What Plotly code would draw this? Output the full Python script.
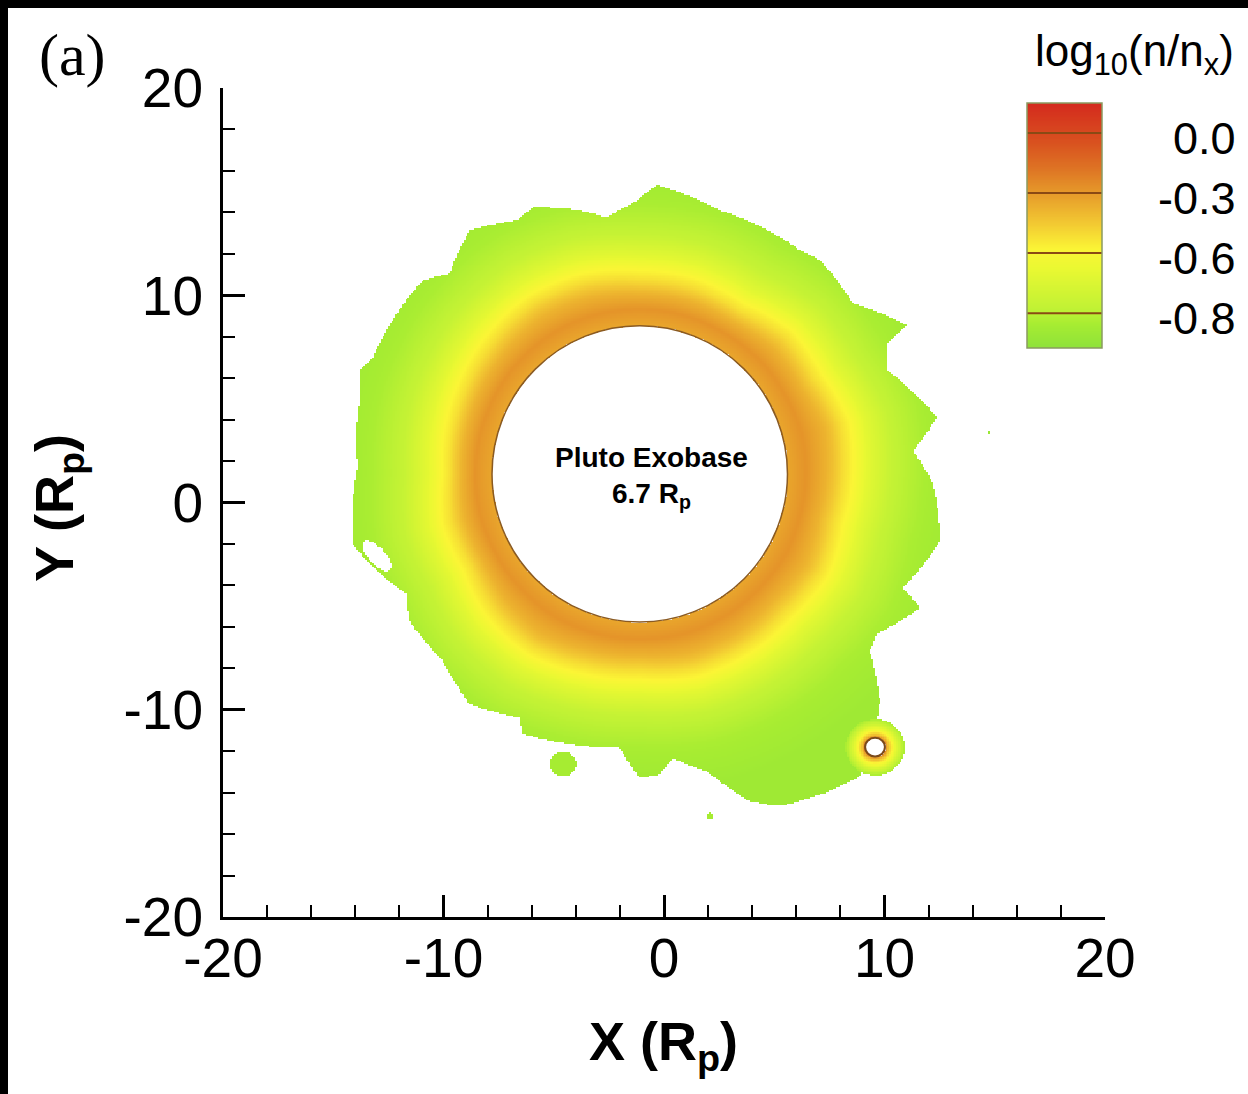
import numpy as np
import plotly.graph_objects as go

# ---------------- data ----------------
# Pluto exobase (white disc) centre and semi-axes in R_p
exo_cx, exo_cy = -1.1, 1.38
exo_rx, exo_ry = 6.7, 7.15

# outer edge of the density cloud: polar angle (deg) / radius (R_p) about exobase centre
bnd_angle = [-13.3, -2.0, 5.2, 11.5, 24.1, 29.4, 30.6, 40.4, 51.6, 56.8, 74.1, 86.8, 91.4,
             96.9, 102.1, 110.6, 114.5, 123.3, 131.7, 136.5, 155.1, 158.5, 164.4, 178.6,
             194.5, 198.7, 208.7, 214.2, 225.3, 235.2, 245.2, 247.1, 256.3, 266.1, 270.0,
             273.6, 276.2, 282.0, 287.5, 291.6, 299.4, 304.4, 314.8, 320.7, 324.4, 333.1, 335.3]
bnd_radius = [13.99, 13.30, 12.43, 13.74, 12.27, 12.85, 14.07, 12.69, 13.15, 13.01, 13.24, 13.95, 13.06,
              12.48, 13.02, 13.75, 13.45, 14.06, 12.96, 13.57, 13.35, 13.65, 13.19, 12.79,
              13.44, 13.07, 12.05, 12.61, 12.69, 13.50, 12.97, 13.61, 13.40, 13.25, 14.67,
              14.50, 13.78, 14.65, 16.55, 17.23, 17.55, 17.66, 15.44, 13.47, 13.23, 14.24, 13.13]

# radial profile of log10(n/nx) vs distance beyond the exobase (R_p)
prof_dist = [0.0, 0.8, 1.6, 2.3, 2.9, 3.4, 4.5, 6.0, 8.0]
prof_logn = [-0.34, -0.28, -0.38, -0.51, -0.60, -0.67, -0.77, -0.84, -0.88]

# angular modulation of the profile (distance shift, R_p)
mod_angle = [0, 15, 30, 45, 60, 75, 90, 105, 120, 135, 150, 165, 180, 195, 210, 225,
             240, 255, 270, 285, 300, 315, 330, 345]
mod_shift = [0.2, 0.35, 0.0, 0.1, -0.3, -0.1, -0.1, 0.15, 0.2, 0.0, -0.2, -0.35,
             -0.5, -0.2, -0.3, 0.1, 0.3, 0.1, 0.0, 0.25, 0.2, 0.1, 0.3, 0.05]

# small moon with its own halo
moon_cx, moon_cy = 9.57, -11.8
moon_r = 0.45
moon_dist = [0.45, 0.6, 0.8, 1.05, 1.35]
moon_logn = [-0.22, -0.42, -0.60, -0.72, -0.84]

# isolated small patches (centre x, centre y, radius, value)
blob_x = [-4.58, 2.09, 14.7]
blob_y = [-12.6, -15.1, 3.4]
blob_r = [0.6, 0.15, 0.07]
blob_v = [-0.85, -0.85, -0.9]

# white hole inside the cloud on the left edge
hole_cx, hole_cy = -13.02, -2.56
hole_a, hole_b, hole_tilt = 0.9, 0.38, -50.0

# legend levels
legend_levels = [-0.8, -0.6, -0.3, 0.0]
legend_labels = ["-0.8", "-0.6", "-0.3", "0.0"]

# axis ticks
tick_vals = [-20, -10, 0, 10, 20]
tick_text = ["-20", "-10", "0", "10", "20"]

# colour scale (value -> colour)
cs_vals = [-0.95, -0.85, -0.78, -0.65, -0.58, -0.45, -0.30, -0.18, -0.05, 0.15]
cs_cols = ['#8ee23a', '#a6ec32', '#c2f234', '#eaf832', '#fbf535', '#f2c832',
           '#e69a2a', '#de7424', '#d9521f', '#d42a1e']

# ---------------- build the field ----------------
vmin, vmax = cs_vals[0], cs_vals[-1]
colorscale = [[(v - vmin) / (vmax - vmin), c] for v, c in zip(cs_vals, cs_cols)]

xs = np.arange(-20, 20.0001, 0.08)
ys = np.arange(-20, 20.0001, 0.08)
X, Y = np.meshgrid(xs, ys)
dx, dy = X - exo_cx, Y - exo_cy
r = np.hypot(dx, dy)
th = np.arctan2(dy, dx)
r_exo = 1.0 / np.sqrt((np.cos(th) / exo_rx) ** 2 + (np.sin(th) / exo_ry) ** 2)
d = r - r_exo
ang = np.degrees(th) % 360
order = np.argsort(np.array(bnd_angle) % 360)
r_out = np.interp(ang, (np.array(bnd_angle) % 360)[order], np.array(bnd_radius)[order], period=360)
shift = np.interp(ang, mod_angle, mod_shift, period=360)
d_eff = np.where(d > 0.6, d - shift * np.clip((d - 0.6) / 1.5, 0, 1), d)

V = np.interp(d_eff, prof_dist, prof_logn)
inside = (d >= 0) & (r <= r_out)
Z = np.where(inside, V, np.nan)

# moon halo
dm = np.hypot(X - moon_cx, Y - moon_cy)
vm = np.interp(dm, moon_dist, moon_logn)
in_moon = dm <= moon_dist[-1]
Z = np.where(in_moon, np.fmax(Z, vm), Z)
Z = np.where(dm < moon_r, np.nan, Z)

# small patches
for bx, by, br, bv in zip(blob_x, blob_y, blob_r, blob_v):
    Z = np.where(np.hypot(X - bx, Y - by) <= br, bv, Z)

# hole
t = np.radians(hole_tilt)
hx, hy = X - hole_cx, Y - hole_cy
u = hx * np.cos(t) + hy * np.sin(t)
w = -hx * np.sin(t) + hy * np.cos(t)
Z = np.where((u / hole_a) ** 2 + (w / hole_b) ** 2 <= 1, np.nan, Z)

# legend gradient
leg_pos = np.linspace(-0.58, 3.5, 300)
leg_val = np.interp(leg_pos, [-0.58, 0, 1, 2, 3, 3.5], [-0.95] + legend_levels + [0.15])

# ---------------- figure ----------------
W, H = 1248, 1094
ML, MR, MT, MB = 223, 143, 88, 177
PW, PH = W - ML - MR, H - MT - MB


def px(xp):
    return (xp - ML) / PW


def py(yp):
    return (H - MB - yp) / PH


SANS = "Liberation Sans, Arial, sans-serif"

fig = go.Figure()
fig.add_trace(go.Heatmap(x=xs, y=ys, z=Z, colorscale=colorscale, zmin=vmin, zmax=vmax,
                         showscale=False, hoverinfo="skip", zsmooth=False))
fig.add_trace(go.Heatmap(x=[0, 1], y=leg_pos, z=np.column_stack([leg_val, leg_val]),
                         colorscale=colorscale, zmin=vmin, zmax=vmax, showscale=False,
                         hoverinfo="skip", xaxis="x2", yaxis="y2"))

axis_common = dict(showgrid=False, zeroline=False, showline=True, linecolor="black", linewidth=3,
                   ticks="inside", ticklen=22, tickwidth=2.5, tickcolor="black",
                   tickfont=dict(family=SANS, size=55, color="black"),
                   minor=dict(ticks="inside", ticklen=12, tickwidth=1.8, tickcolor="black", dtick=2),
                   mirror=False, range=[-20, 20], tickvals=tick_vals, ticktext=tick_text)

fig.update_layout(
    width=W, height=H, margin=dict(l=ML, r=MR, t=MT, b=MB),
    paper_bgcolor="white", plot_bgcolor="white", showlegend=False,
    xaxis=dict(**axis_common, domain=[0, 1], anchor="y", ticklabelstandoff=-9),
    yaxis=dict(**axis_common, domain=[0, 1], anchor="x", ticklabelstandoff=6),
    xaxis2=dict(domain=[px(1027), px(1102)], anchor="y2", range=[-0.5, 1.5], visible=False),
    yaxis2=dict(domain=[py(348), py(103)], anchor="x2", range=[-0.58, 3.5], visible=False),
)

shapes = []
shapes.append(dict(type="circle", xref="x", yref="y", x0=exo_cx - exo_rx, x1=exo_cx + exo_rx,
                   y0=exo_cy - exo_ry, y1=exo_cy + exo_ry, line=dict(color="#8a5a22", width=1.5)))
shapes.append(dict(type="circle", xref="x", yref="y", x0=moon_cx - moon_r, x1=moon_cx + moon_r,
                   y0=moon_cy - moon_r, y1=moon_cy + moon_r, line=dict(color="#7a4a1a", width=2)))
for lv in range(len(legend_levels)):
    shapes.append(dict(type="line", xref="x2 domain", yref="y2", x0=0, x1=1, y0=lv, y1=lv,
                       line=dict(color="#8a4a14", width=2)))
shapes.append(dict(type="rect", xref="x2 domain", yref="y2 domain", x0=0, x1=1, y0=0, y1=1,
                   line=dict(color="#8a9a60", width=1.5)))
shapes.append(dict(type="rect", xref="paper", yref="paper", x0=px(0), x1=px(W), y0=py(8), y1=py(0),
                   fillcolor="black", line=dict(width=0)))
shapes.append(dict(type="rect", xref="paper", yref="paper", x0=px(0), x1=px(8), y0=py(H), y1=py(0),
                   fillcolor="black", line=dict(width=0)))
fig.update_layout(shapes=shapes)


def note(text, xp, yp, size, family=SANS, **kw):
    return dict(text=text, x=px(xp), y=py(yp), xref="paper", yref="paper", showarrow=False,
                xanchor="center", yanchor="middle", font=dict(family=family, size=size, color="black"), **kw)


ann = [
    note("(a)", 72, 55, 60, family="Liberation Serif, Times New Roman, serif"),
    note("<b>Y (R<sub>p</sub>)</b>", 58, 508, 54, textangle=-90),
    note("<b>X (R<sub>p</sub>)</b>", 663, 1045, 54),
    note("log<sub>10</sub>(n/n<sub>x</sub>)", 1134, 54, 44),
    note("<b>Pluto Exobase</b><br><b>6.7 R<sub>p</sub></b>", 651, 478, 28),
]
for i, lab in enumerate(legend_labels):
    ann.append(dict(text=lab, x=px(1238), y=i, xref="paper", yref="y2", xanchor="right",
                    yanchor="middle", yshift=-5, showarrow=False,
                    font=dict(family=SANS, size=45, color="black")))
fig.update_layout(annotations=ann)

fig.write_html("out.html", config={"displayModeBar": False},
               post_script="document.body.style.margin='0px';")
